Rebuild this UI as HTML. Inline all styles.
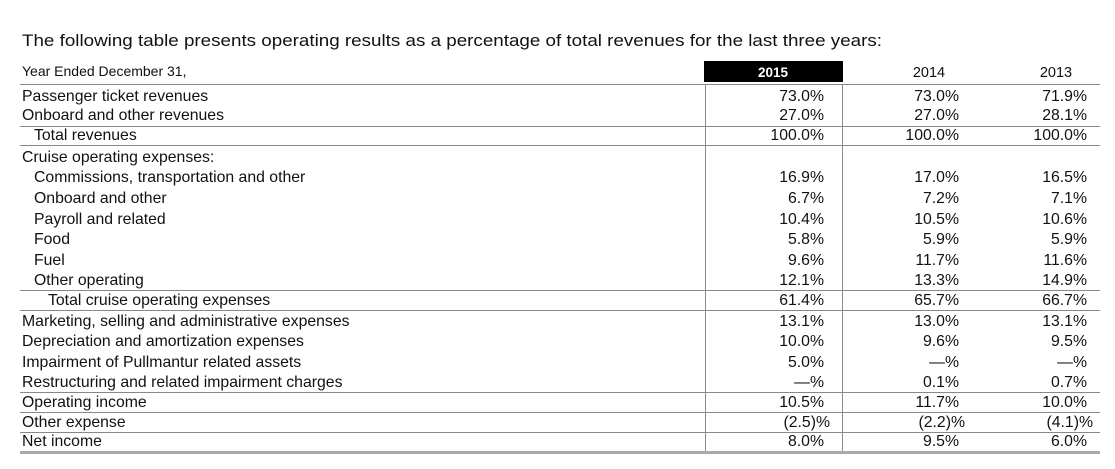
<!DOCTYPE html>
<html><head><meta charset="utf-8"><style>
html,body{margin:0;padding:0;background:#fff;}
svg{display:block;}
text{font-family:"Liberation Sans",sans-serif;fill:#111;}
</style></head><body>
<svg width="1115" height="469" viewBox="0 0 1115 469" xmlns="http://www.w3.org/2000/svg">
<text x="22" y="46" font-size="17" textLength="860" lengthAdjust="spacingAndGlyphs">The following table presents operating results as a percentage of total revenues for the last three years:</text>
<text x="22" y="76" font-size="14">Year Ended December 31,</text>
<rect x="704" y="61" width="139" height="21" fill="#000"/>
<text x="773" y="77" font-size="13.5" font-weight="bold" text-anchor="middle" style="fill:#fff">2015</text>
<text x="929" y="77" font-size="14.5" text-anchor="middle">2014</text>
<text x="1056" y="77" font-size="14.5" text-anchor="middle">2013</text>
<g stroke="#888" stroke-width="1">
<line x1="20" y1="84.5" x2="1100" y2="84.5"/>
<line x1="20" y1="126.5" x2="1100" y2="126.5"/>
<line x1="20" y1="145.5" x2="1100" y2="145.5"/>
<line x1="20" y1="290.5" x2="1100" y2="290.5"/>
<line x1="20" y1="310.5" x2="1100" y2="310.5"/>
<line x1="20" y1="392.5" x2="1100" y2="392.5"/>
<line x1="20" y1="412.5" x2="1100" y2="412.5"/>
<line x1="20" y1="432.5" x2="1100" y2="432.5"/>
<line x1="705.5" y1="84" x2="705.5" y2="452"/>
<line x1="842.5" y1="84" x2="842.5" y2="452"/>
</g>
<rect x="20" y="451" width="1080" height="3" fill="#aaa"/>
<g font-size="15.8">
<text x="22" y="101">Passenger ticket revenues</text>
<text x="22" y="120">Onboard and other revenues</text>
<text x="34" y="140">Total revenues</text>
<text x="22" y="162">Cruise operating expenses:</text>
<text x="34" y="182">Commissions, transportation and other</text>
<text x="34" y="203">Onboard and other</text>
<text x="34" y="224">Payroll and related</text>
<text x="34" y="244">Food</text>
<text x="34" y="265">Fuel</text>
<text x="34" y="285">Other operating</text>
<text x="48" y="305">Total cruise operating expenses</text>
<text x="22" y="326">Marketing, selling and administrative expenses</text>
<text x="22" y="346">Depreciation and amortization expenses</text>
<text x="22" y="367">Impairment of Pullmantur related assets</text>
<text x="22" y="387">Restructuring and related impairment charges</text>
<text x="22" y="407">Operating income</text>
<text x="22" y="427">Other expense</text>
<text x="22" y="446">Net income</text>
</g>
<g font-size="15.8" text-anchor="end">
<g transform="translate(824,0)">
<text y="101">73.0%</text><text y="120">27.0%</text><text y="140">100.0%</text>
<text y="182">16.9%</text><text y="203">6.7%</text><text y="224">10.4%</text><text y="244">5.8%</text><text y="265">9.6%</text><text y="285">12.1%</text><text y="305">61.4%</text>
<text y="326">13.1%</text><text y="346">10.0%</text><text y="367">5.0%</text><text y="387">—%</text><text y="407">10.5%</text><text x="6" y="427">(2.5)%</text><text y="446">8.0%</text>
</g>
<g transform="translate(959,0)">
<text y="101">73.0%</text><text y="120">27.0%</text><text y="140">100.0%</text>
<text y="182">17.0%</text><text y="203">7.2%</text><text y="224">10.5%</text><text y="244">5.9%</text><text y="265">11.7%</text><text y="285">13.3%</text><text y="305">65.7%</text>
<text y="326">13.0%</text><text y="346">9.6%</text><text y="367">—%</text><text y="387">0.1%</text><text y="407">11.7%</text><text x="6" y="427">(2.2)%</text><text y="446">9.5%</text>
</g>
<g transform="translate(1087,0)">
<text y="101">71.9%</text><text y="120">28.1%</text><text y="140">100.0%</text>
<text y="182">16.5%</text><text y="203">7.1%</text><text y="224">10.6%</text><text y="244">5.9%</text><text y="265">11.6%</text><text y="285">14.9%</text><text y="305">66.7%</text>
<text y="326">13.1%</text><text y="346">9.5%</text><text y="367">—%</text><text y="387">0.7%</text><text y="407">10.0%</text><text x="6" y="427">(4.1)%</text><text y="446">6.0%</text>
</g>
</g>
</svg>
</body></html>
